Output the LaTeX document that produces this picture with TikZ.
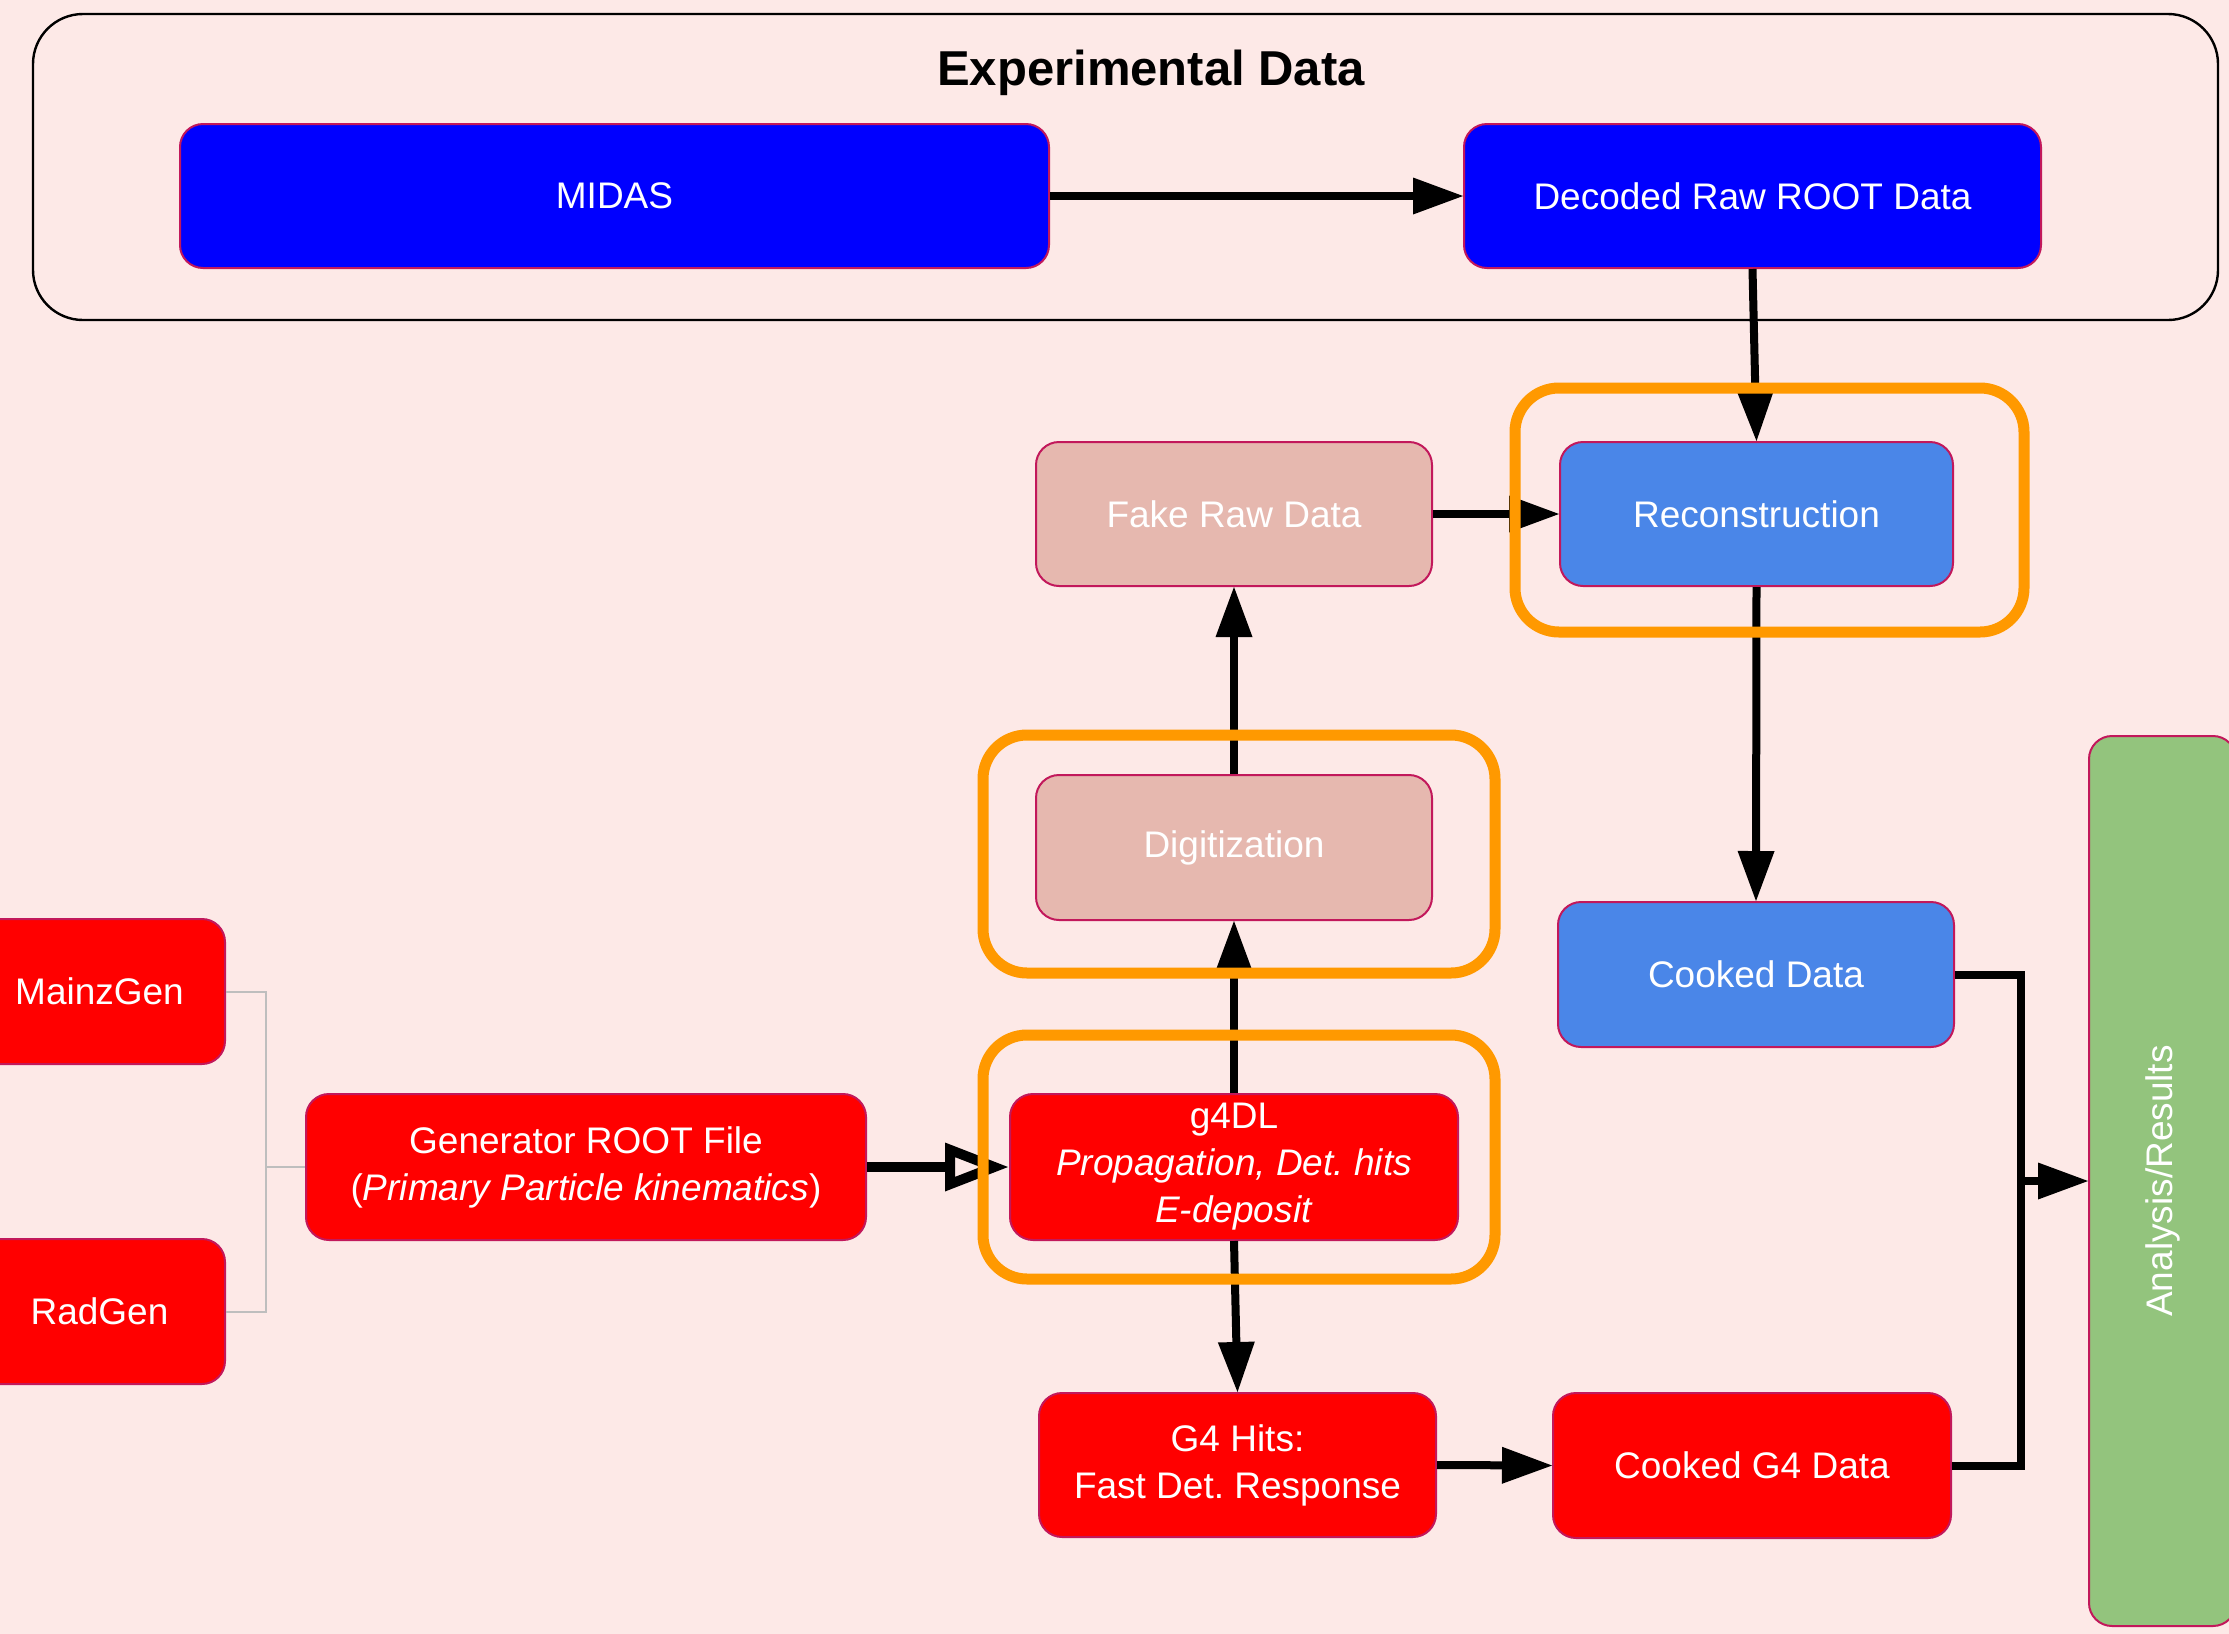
\documentclass[tikz,border=0pt]{standalone}
\usepackage{fontspec}
\setmainfont{Liberation Sans}
\usetikzlibrary{arrows.meta}
\definecolor{bgc}{RGB}{253,233,231}
\definecolor{bluec}{RGB}{0,0,255}
\definecolor{lbluec}{RGB}{74,134,232}
\definecolor{redc}{RGB}{255,0,0}
\definecolor{pinkc}{RGB}{230,184,175}
\definecolor{greenc}{RGB}{147,196,125}
\definecolor{orangec}{RGB}{255,153,0}
\definecolor{bordc}{RGB}{194,24,91}
\definecolor{grayc}{RGB}{190,190,190}
\frenchspacing
\begin{document}
\begin{tikzpicture}[x=0.5pt,y=-0.5pt,
  box/.style={draw=bordc, line width=1pt, rounded corners=11.5pt, text=white,
    align=center, inner sep=0pt, font=\fontsize{18.5}{23.5}\selectfont},
  conn/.style={line width=4pt, -{Triangle[length=25pt,width=18.5pt,line width=0pt]}},
  openconn/.style={line width=5pt, -{Triangle[open,length=32pt,width=23pt]}},
  plainline/.style={line width=4pt},
  grayline/.style={line width=1pt, draw=grayc},
  hand/.style={draw=orangec, line width=5.5pt, rounded corners=22pt}]
\path[use as bounding box] (0,0) rectangle (2229,1634);
\clip (0,0) rectangle (2229,1634);
\fill[bgc] (0,0) rectangle (2229,1634);

% experimental data container
\node[draw, line width=1.2pt, rounded corners=25pt, minimum width=1092.5pt,
  minimum height=153pt, inner sep=0pt] (exp) at (1125.5,167) {};
\node[anchor=base, font=\fontsize{24.5}{28}\selectfont\bfseries] (title) at (1151,85) {Experimental Data};

% nodes
\node[box, fill=bluec, minimum width=434.5pt, minimum height=72pt] (midas) at (614.5,196) {MIDAS};
\node[box, fill=bluec, minimum width=288.5pt, minimum height=72pt] (decoded) at (1752.5,196) {Decoded Raw ROOT Data};
\node[box, fill=pinkc, minimum width=198pt, minimum height=72pt] (fake) at (1234,514) {Fake Raw Data};
\node[box, fill=lbluec, minimum width=196.5pt, minimum height=72pt] (recon) at (1756.5,514) {Reconstruction};
\node[box, fill=pinkc, minimum width=198pt, minimum height=72.5pt] (digit) at (1234,847.5) {Digitization};
\node[box, fill=lbluec, minimum width=198pt, minimum height=72.5pt] (cooked) at (1756,974.5) {Cooked Data};
\node[box, fill=redc, minimum width=125.5pt, minimum height=72.5pt] (mainz) at (99.5,991.5) {MainzGen};
\node[box, fill=redc, minimum width=125.5pt, minimum height=72.5pt] (radgen) at (99.5,1311.5) {RadGen};
\node[box, fill=redc, minimum width=280pt, minimum height=73pt] (gen) at (586,1167) {Generator ROOT File\\(\textit{Primary Particle kinematics})};
\node[box, fill=redc, minimum width=224pt, minimum height=73pt] (g4dl) at (1234,1167) {g4DL\\\textit{Propagation, Det. hits}\\\textit{E-deposit}};
\node[box, fill=redc, minimum width=198.5pt, minimum height=72pt] (hits) at (1237.5,1465) {G4 Hits:\\Fast Det. Response};
\node[box, fill=redc, minimum width=199pt, minimum height=72.5pt] (cookedg4) at (1752,1465.5) {Cooked G4 Data};
\node[box, fill=greenc, rotate=90, minimum width=445pt, minimum height=73.5pt] (ana) at (2162.5,1181) {Analysis/Results};

% connectors
\coordinate (j) at (2021,1181);
\coordinate (g) at (266,1167);
\draw[conn] (midas.east) -- (decoded.west);
\draw[conn] (decoded.south) -- (recon.north);
\draw[conn] (fake.east) -- (recon.west);
\draw[conn] (digit.north) -- (fake.south);
\draw[conn] (g4dl.north) -- (digit.south);
\draw[conn] (recon.south) -- (cooked.north);
\draw[openconn] (gen.east) -- (g4dl.west);
\draw[conn] (g4dl.south) -- (hits.north);
\draw[conn] (hits.east) -- (cookedg4.west);
\draw[plainline] (cooked.east) -| (j);
\draw[plainline] (cookedg4.east) -| (j);
\draw[conn] (j) -- (j -| ana.north);
\draw[grayline] (mainz.east) -| (g);
\draw[grayline] (radgen.east) -| (g);
\draw[grayline] (g) -- (gen.west);

% hand-drawn highlights
\draw[hand] (1515,388) rectangle (2024,632);
\draw[hand] (983,735) rectangle (1495,973);
\draw[hand] (983,1035) rectangle (1495,1279);
\end{tikzpicture}
\end{document}
